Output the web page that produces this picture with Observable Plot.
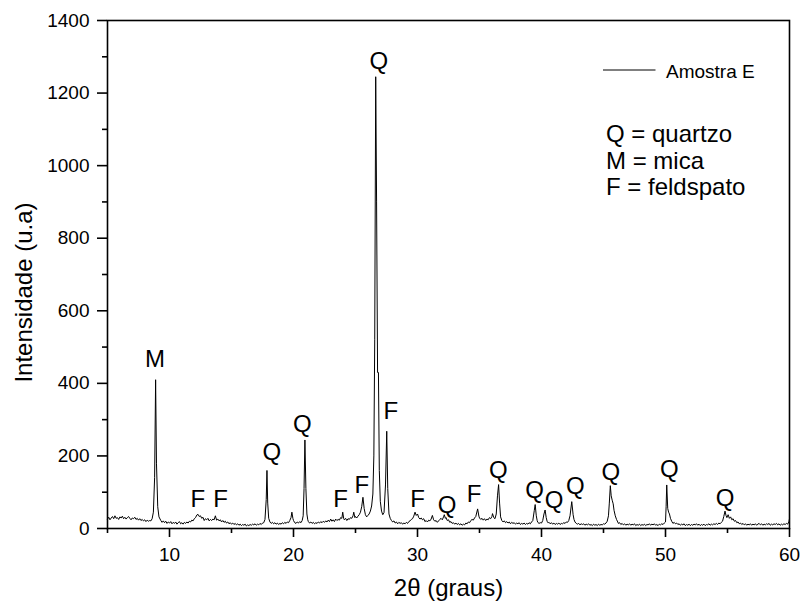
<!DOCTYPE html>
<html>
<head>
<meta charset="utf-8">
<script src="https://cdn.jsdelivr.net/npm/d3@7"></script>
<script src="https://cdn.jsdelivr.net/npm/@observablehq/plot@0.6"></script>
<style>
  html, body { margin: 0; padding: 0; background: #fff; }
  #chart svg { display: block; }
</style>
</head>
<body>
<div id="chart"></div>
<script>
// XRD scan: [2θ (graus), intensidade (u.a)]
const scan = [
  [5.0,26],[5.1,31],[5.2,24],[5.3,29],[5.4,33],[5.5,27],[5.6,35],[5.7,28],[5.8,30],[5.9,25],
  [6.0,32],[6.1,29],[6.2,34],[6.3,27],[6.4,31],[6.5,26],[6.6,30],[6.7,33],[6.8,28],[6.9,24],
  [7.0,29],[7.1,27],[7.2,31],[7.3,25],[7.4,28],[7.5,23],[7.6,27],[7.7,22],[7.8,25],[7.9,21],
  [8.0,24],[8.1,19],[8.2,23],[8.3,20],[8.4,22],[8.5,21],[8.6,27],[8.7,45],[8.8,140],[8.88,410],
  [8.95,180],[9.05,60],[9.15,32],[9.3,22],[9.4,17],[9.5,21],[9.6,16],[9.7,20],[9.8,14],[9.9,18],
  [10.0,15],[10.1,19],[10.2,13],[10.3,17],[10.4,14],[10.5,18],[10.6,12],[10.7,16],[10.8,19],[10.9,13],
  [11.0,16],[11.1,12],[11.2,17],[11.3,14],[11.4,18],[11.5,15],[11.6,20],[11.7,18],[11.8,23],[11.9,21],
  [12.0,27],[12.1,30],[12.2,37],[12.3,39],[12.4,33],[12.5,35],[12.6,28],[12.7,31],[12.8,22],[12.9,27],
  [13.0,24],[13.1,28],[13.2,21],[13.3,25],[13.4,22],[13.5,26],[13.6,24],[13.7,35],[13.8,23],[13.9,26],
  [14.0,21],[14.1,24],[14.2,18],[14.3,22],[14.4,17],[14.5,20],[14.6,15],[14.7,18],[14.8,13],[14.9,16],
  [15.0,12],[15.1,15],[15.2,11],[15.3,14],[15.4,10],[15.5,13],[15.6,9],[15.7,12],[15.8,8],[15.9,11],
  [16.0,9],[16.1,12],[16.2,7],[16.3,10],[16.4,8],[16.5,11],[16.6,9],[16.7,12],[16.8,10],[16.9,13],
  [17.0,9],[17.1,12],[17.2,10],[17.3,14],[17.4,11],[17.5,15],[17.6,16],[17.7,25],[17.8,80],[17.86,160],
  [17.92,70],[18.0,28],[18.1,18],[18.2,14],[18.3,17],[18.4,13],[18.5,16],[18.6,12],[18.7,15],[18.8,11],
  [18.9,14],[19.0,12],[19.1,16],[19.2,13],[19.3,17],[19.4,14],[19.5,18],[19.6,16],[19.7,22],[19.8,30],
  [19.87,45],[19.95,28],[20.0,22],[20.1,16],[20.2,14],[20.3,18],[20.4,15],[20.5,19],[20.6,16],[20.7,22],
  [20.78,35],[20.85,110],[20.92,244],[21.0,110],[21.08,40],[21.15,24],[21.2,19],[21.3,15],[21.4,18],[21.5,14],
  [21.6,17],[21.7,13],[21.8,16],[21.9,14],[22.0,18],[22.1,15],[22.2,19],[22.3,16],[22.4,20],[22.5,17],
  [22.6,21],[22.7,18],[22.8,23],[22.9,19],[23.0,26],[23.1,20],[23.2,24],[23.3,19],[23.4,26],[23.5,22],
  [23.6,25],[23.7,23],[23.8,30],[23.9,28],[23.97,45],[24.05,27],[24.1,24],[24.2,28],[24.3,22],[24.4,27],
  [24.5,25],[24.6,30],[24.7,28],[24.8,35],[24.86,45],[24.95,30],[25.0,33],[25.1,29],[25.2,34],[25.3,38],
  [25.4,45],[25.5,60],[25.6,86],[25.7,55],[25.8,38],[25.9,32],[26.0,36],[26.1,40],[26.2,48],[26.3,62],
  [26.4,95],[26.48,200],[26.55,520],[26.63,1245],[26.7,900],[26.78,430],[26.85,430],[26.92,160],[27.0,75],[27.1,48],
  [27.2,38],[27.3,44],[27.42,120],[27.52,268],[27.6,110],[27.7,40],[27.8,28],[27.9,22],[28.0,18],[28.1,21],
  [28.2,15],[28.3,18],[28.4,13],[28.5,17],[28.6,14],[28.7,16],[28.8,12],[28.9,15],[29.0,13],[29.1,17],
  [29.2,14],[29.3,19],[29.4,21],[29.5,25],[29.6,27],[29.7,34],[29.8,45],[29.9,36],[30.0,40],[30.1,30],
  [30.2,26],[30.3,29],[30.4,24],[30.5,27],[30.6,19],[30.7,22],[30.8,18],[30.9,23],[31.0,21],[31.1,26],
  [31.2,36],[31.3,24],[31.4,20],[31.5,22],[31.6,17],[31.7,21],[31.8,25],[31.9,28],[32.0,24],[32.1,32],
  [32.16,38],[32.25,28],[32.3,30],[32.4,22],[32.5,24],[32.6,17],[32.7,19],[32.8,14],[32.9,16],[33.0,12],
  [33.1,15],[33.2,11],[33.3,14],[33.4,10],[33.5,13],[33.6,9],[33.7,12],[33.8,10],[33.9,15],[34.0,13],
  [34.1,18],[34.2,16],[34.3,22],[34.4,25],[34.5,23],[34.6,29],[34.7,33],[34.85,54],[34.95,34],[35.0,29],
  [35.1,25],[35.2,28],[35.3,23],[35.4,27],[35.5,22],[35.6,26],[35.7,24],[35.8,30],[35.9,27],[36.0,33],
  [36.05,41],[36.15,30],[36.25,27],[36.35,40],[36.45,90],[36.54,121],[36.62,70],[36.7,32],[36.8,22],[36.9,18],
  [37.0,21],[37.1,16],[37.2,19],[37.3,15],[37.4,18],[37.5,13],[37.6,17],[37.7,14],[37.8,16],[37.9,12],
  [38.0,15],[38.1,13],[38.2,16],[38.3,11],[38.4,14],[38.5,12],[38.6,15],[38.7,11],[38.8,14],[38.9,12],
  [39.0,16],[39.1,13],[39.2,18],[39.3,22],[39.42,50],[39.49,66],[39.58,35],[39.65,22],[39.7,17],[39.8,14],
  [39.9,16],[40.0,15],[40.1,22],[40.2,40],[40.29,51],[40.38,30],[40.45,20],[40.55,15],[40.6,17],[40.7,13],
  [40.8,16],[40.9,12],[41.0,15],[41.1,11],[41.2,14],[41.3,12],[41.4,15],[41.5,11],[41.6,14],[41.7,13],
  [41.8,16],[41.9,14],[42.0,18],[42.1,17],[42.2,22],[42.3,35],[42.44,74],[42.55,38],[42.62,25],[42.7,18],
  [42.8,14],[42.9,12],[43.0,14],[43.1,10],[43.2,13],[43.3,11],[43.4,13],[43.5,9],[43.6,12],[43.7,10],
  [43.8,13],[43.9,9],[44.0,11],[44.1,8],[44.2,12],[44.3,9],[44.4,11],[44.5,8],[44.6,12],[44.7,9],
  [44.8,11],[44.9,10],[45.0,13],[45.1,12],[45.2,15],[45.3,20],[45.4,35],[45.47,70],[45.55,118],[45.62,90],
  [45.7,78],[45.78,68],[45.85,50],[45.95,35],[46.05,25],[46.15,18],[46.2,14],[46.3,16],[46.4,11],[46.5,14],
  [46.6,10],[46.7,13],[46.8,9],[46.9,12],[47.0,10],[47.1,13],[47.2,9],[47.3,12],[47.4,10],[47.5,13],
  [47.6,8],[47.7,11],[47.8,9],[47.9,12],[48.0,8],[48.1,11],[48.2,9],[48.3,12],[48.4,8],[48.5,11],
  [48.6,10],[48.7,13],[48.8,9],[48.9,12],[49.0,10],[49.1,13],[49.2,9],[49.3,11],[49.4,8],[49.5,12],
  [49.6,10],[49.7,13],[49.8,11],[49.9,15],[50.0,18],[50.05,60],[50.1,120],[50.18,55],[50.25,45],[50.32,40],
  [50.4,28],[50.5,20],[50.6,14],[50.7,17],[50.8,13],[50.9,15],[51.0,11],[51.1,13],[51.2,9],[51.3,12],
  [51.4,10],[51.5,13],[51.6,8],[51.7,11],[51.8,9],[51.9,12],[52.0,8],[52.1,11],[52.2,9],[52.3,12],
  [52.4,10],[52.5,13],[52.6,9],[52.7,12],[52.8,8],[52.9,11],[53.0,9],[53.1,12],[53.2,8],[53.3,11],
  [53.4,10],[53.5,13],[53.6,9],[53.7,12],[53.8,10],[53.9,13],[54.0,11],[54.1,14],[54.2,11],[54.3,15],
  [54.4,13],[54.5,17],[54.6,20],[54.7,33],[54.8,48],[54.88,36],[54.95,30],[55.05,38],[55.15,28],[55.25,32],
  [55.35,24],[55.45,27],[55.55,20],[55.65,22],[55.75,16],[55.85,18],[55.95,13],[56.05,15],[56.15,11],[56.25,14],
  [56.35,10],[56.45,13],[56.55,9],[56.65,12],[56.75,10],[56.85,13],[56.95,9],[57.05,12],[57.15,10],[57.25,13],
  [57.35,9],[57.45,12],[57.55,14],[57.65,10],[57.75,13],[57.85,9],[57.95,12],[58.05,10],[58.15,13],[58.25,11],
  [58.35,14],[58.45,9],[58.55,12],[58.65,10],[58.75,13],[58.85,11],[58.95,14],[59.05,10],[59.15,13],[59.25,9],
  [59.35,12],[59.45,10],[59.55,13],[59.65,11],[59.75,14],[59.85,12],[59.95,18],[60.0,27]
];

// Peak annotations
const peakText = ["M","F","F","Q","Q","F","F","Q","F","F","Q","F","Q","Q","Q","Q","Q","Q","Q"];
const peakX    = [8.84,12.29,14.11,18.26,20.71,23.8,25.52,26.89,27.85,30.01,32.39,34.56,36.51,39.45,41.02,42.72,45.6,50.3,54.8];
const peakY    = [467,81,81,209,286,81,119,1287,323,80,65,95,160,105,77,117,156,163,82];

const legendName = "Amostra E";
const legendKey = "Q = quartzo\nM = mica\nF = feldspato";

const xTicks = [10,20,30,40,50,60];
const xMinor = [5,15,25,35,45,55];
const yTicks = [0,200,400,600,800,1000,1200,1400];
const yMinor = [100,300,500,700,900,1100,1300];

const points = scan.map(([x, y]) => ({x, y}));
const peaks = peakText.map((t, i) => ({t, x: peakX[i], y: peakY[i]}));

const font = "'Liberation Sans', Arial, Helvetica, sans-serif";

const legendLine = (index, scales, values, dims) => {
  const ns = "http://www.w3.org/2000/svg";
  const g = document.createElementNS(ns, "g");
  const l = document.createElementNS(ns, "line");
  const right = dims.width - dims.marginRight;
  l.setAttribute("x1", right - 186);
  l.setAttribute("x2", right - 133.5);
  l.setAttribute("y1", dims.marginTop + 50);
  l.setAttribute("y2", dims.marginTop + 50);
  l.setAttribute("stroke", "black");
  l.setAttribute("stroke-width", 1);
  g.appendChild(l);
  return g;
};

const fmt = d => String(d);

const chart = Plot.plot({
  width: 801,
  height: 611,
  marginLeft: 107,
  marginRight: 12,
  marginTop: 20,
  marginBottom: 83,
  style: {fontFamily: font, color: "black", background: "white"},
  x: {domain: [5, 60]},
  y: {domain: [0, 1400]},
  marks: [
    Plot.axisX(xTicks, {tickSize: 9, tickPadding: 10, fontSize: 19, stroke: "black", strokeWidth: 1.6, tickFormat: fmt, label: null}),
    Plot.axisX(xMinor, {tickSize: 5, tickFormat: () => "", stroke: "black", strokeWidth: 1.6, label: null}),
    Plot.axisY(yTicks, {tickSize: 10, tickPadding: 8, fontSize: 19, stroke: "black", strokeWidth: 1.6, tickFormat: fmt, label: null}),
    Plot.axisY(yMinor, {tickSize: 5, tickFormat: () => "", stroke: "black", strokeWidth: 1.6, label: null}),
    Plot.line(points, {x: "x", y: "y", stroke: "black", strokeWidth: 1}),
    Plot.frame({stroke: "black", strokeWidth: 1.6}),
    Plot.text(peaks, {x: "x", y: "y", text: "t", fontSize: 24, fill: "black", lineAnchor: "middle"}),
    Plot.text(["Intensidade (u.a)"], {frameAnchor: "left", textAnchor: "middle", rotate: -90, dx: -83, dy: 18, fontSize: 24, fill: "black"}),
    Plot.text(["2θ (graus)"], {frameAnchor: "bottom", textAnchor: "middle", dy: 67, fontSize: 24, fill: "black"}),
    legendLine,
    Plot.text([legendName], {frameAnchor: "top-right", dx: -123.5, dy: 57, textAnchor: "start", lineAnchor: "bottom", fontSize: 19, fill: "black"}),
    Plot.text([legendKey], {frameAnchor: "top-right", dx: -183.5, dy: 102.5, textAnchor: "start", lineAnchor: "top", lineHeight: 1.11, fontSize: 24, fill: "black"})
  ]
});

document.getElementById("chart").appendChild(chart);
</script>
</body>
</html>
